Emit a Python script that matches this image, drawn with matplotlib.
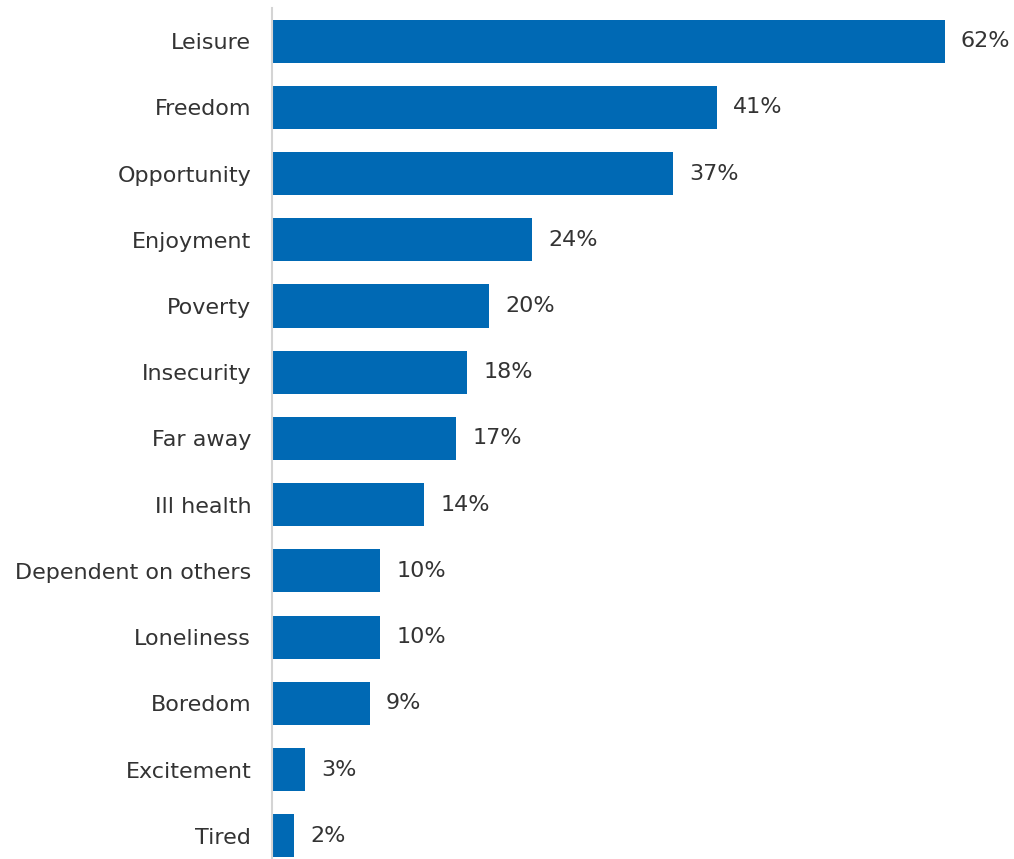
import matplotlib.pyplot as plt

categories = ["Leisure", "Freedom", "Opportunity", "Enjoyment", "Poverty",
              "Insecurity", "Far away", "Ill health", "Dependent on others",
              "Loneliness", "Boredom", "Excitement", "Tired"]
values = [62, 41, 37, 24, 20, 18, 17, 14, 10, 10, 9, 3, 2]

BAR_COLOR = "#0069b4"
TEXT_COLOR = "#333333"

fig = plt.figure(figsize=(10.14, 8.59), dpi=100)
ax = fig.add_axes([272 / 1014, 0, 1 - 272 / 1014, 851 / 859])

pos = list(range(len(categories)))
ax.barh(pos, values, height=0.65, color=BAR_COLOR)

for y, v in zip(pos, values):
    ax.text(v + 1.5, y, f"{v}%", va="center", ha="left",
            fontsize=16, color=TEXT_COLOR)

ax.set_yticks(pos)
ax.set_yticklabels(categories, fontsize=16, color=TEXT_COLOR)
ax.tick_params(axis="y", length=0, pad=15)
ax.set_xticks([])
ax.set_xlim(0, 68.4)
ax.set_ylim(12.35, -0.5)

for side in ["top", "right", "bottom"]:
    ax.spines[side].set_visible(False)
ax.spines["left"].set_color("#d4d4d4")
ax.spines["left"].set_linewidth(1.5)

fig.savefig("out.png", dpi=100)
